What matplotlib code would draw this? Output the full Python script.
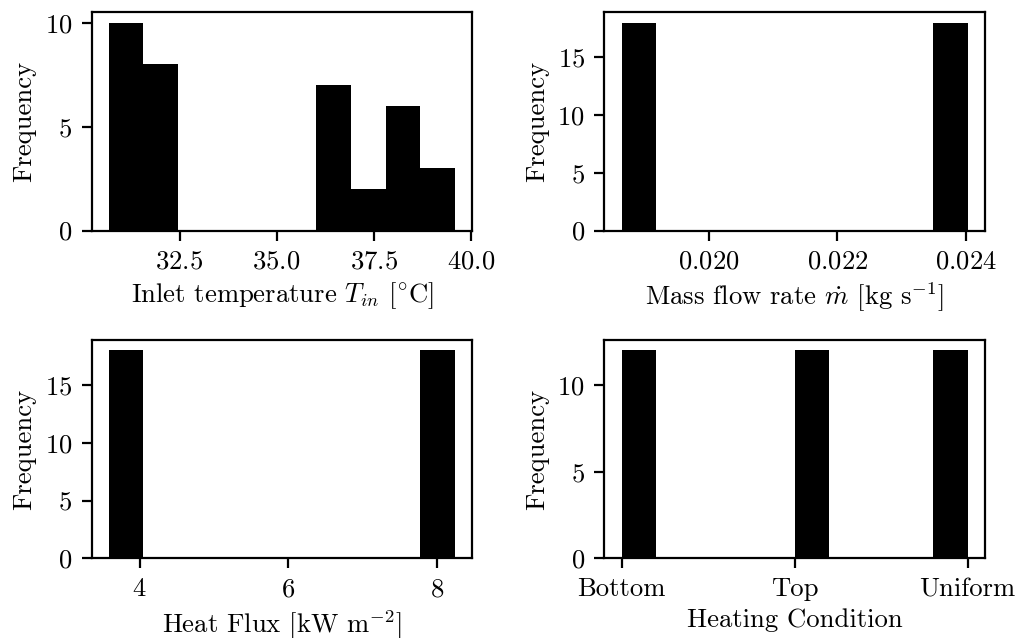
import numpy as np
import matplotlib
matplotlib.use("Agg")
import matplotlib.pyplot as plt

plt.rcParams['font.family'] = 'serif'
plt.rcParams['font.serif'] = ['cmr10']
plt.rcParams['mathtext.fontset'] = 'cm'
plt.rcParams['axes.formatter.use_mathtext'] = True
plt.rcParams['font.size'] = 9.6

# operating conditions of the 36 test runs
inlet_temp = [30.68, 30.80, 30.90, 31.00, 31.05, 31.10, 31.20, 31.30, 31.40, 31.50,
              31.60, 31.70, 31.80, 31.90, 32.00, 32.10, 32.20, 32.30,
              36.10, 36.20, 36.30, 36.50, 36.60, 36.70, 36.80,
              37.20, 37.50,
              37.90, 38.00, 38.20, 38.30, 38.50, 38.60,
              38.90, 39.20, 39.59]
mass_flow = [0.01864] * 18 + [0.02403] * 18
heat_flux = [3.587] * 18 + [8.238] * 18
heating = ["Bottom"] * 12 + ["Top"] * 12 + ["Uniform"] * 12

xlabels = [r"Inlet temperature $T_{in}$ [$^{\circ}$C]",
           r"Mass flow rate $\dot{m}$ [kg s$^{-1}$]",
           r"Heat Flux [kW m$^{-2}$]",
           "Heating Condition"]

fig, ax = plt.subplots(2, 2, figsize=(5.095, 3.19), dpi=200)
ax = ax.ravel()
for a, data, lab in zip(ax, [inlet_temp, mass_flow, heat_flux, heating], xlabels):
    a.hist(data, bins=10, color="black")
    a.set_xlabel(lab, labelpad=2.5)
    a.set_ylabel("Frequency", labelpad=3)

ax[1].set_xticks([0.020, 0.022, 0.024])
ax[2].set_xticks([4, 6, 8])

plt.subplots_adjust(left=0.0898, right=0.9666, top=0.9807, bottom=0.1249,
                    wspace=0.347, hspace=0.501)
plt.savefig("out.png", dpi=200)
plt.close()
